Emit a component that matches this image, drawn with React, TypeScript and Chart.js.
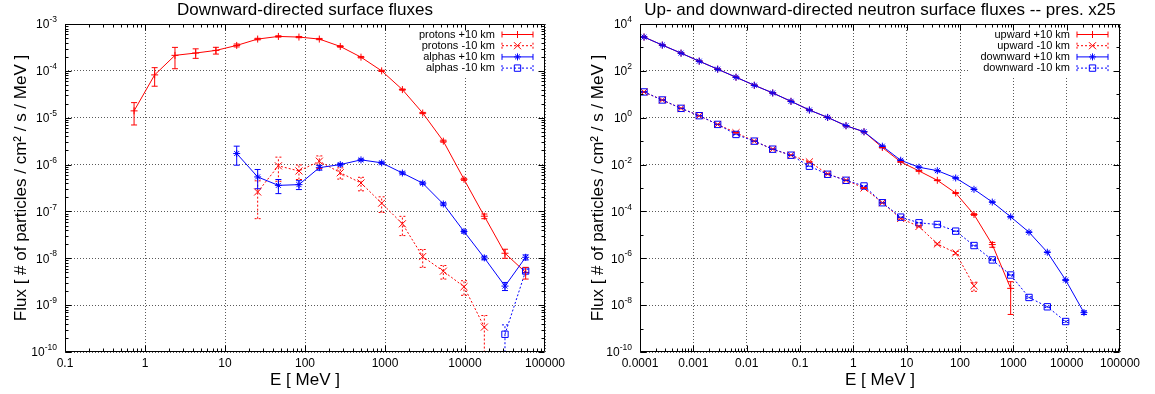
import React, { useEffect, useRef } from 'react';
import { Chart, registerables } from 'chart.js';
Chart.register(...registerables);

const FONT = "'Liberation Sans', Arial, Helvetica, sans-serif";
const RED = '#ff0000';
const BLUE = '#0000ff';

// ---------------- Left panel: downward-directed surface fluxes ----------------
const chargedEnergy = [0.73, 1.32, 2.37, 4.3, 7.7, 14.0, 25.6, 46.5, 84, 151, 276, 501, 908, 1650, 2960, 5360, 9720, 17450, 31600, 57300];
const protonsPlus = [1.4e-5, 8.2e-5, 2.14e-4, 2.4e-4, 2.73e-4, 3.49e-4, 4.77e-4, 5.43e-4, 5.26e-4, 4.77e-4, 3.32e-4, 1.96e-4, 1.0e-4, 3.98e-5, 1.26e-5, 3.16e-6, 4.85e-7, 7.9e-8, 1.28e-8, 5.0e-9];
const protonsPlusErr = [7e-6, 3.5e-5, 1.03e-4, 5.5e-5, 4.5e-5, 2.5e-5, 1.8e-5, 1.8e-5, 1.6e-5, 1.5e-5, 1.2e-5, 7e-6, 3e-6, 1.2e-6, 4e-7, 1.6e-7, 2.5e-8, 9e-9, 2.8e-9, 1.4e-9];
const protonsMinus = [null, null, null, null, null, null, 2.6e-7, 9.4e-7, 7.3e-7, 1.18e-6, 6.7e-7, 4.05e-7, 1.5e-7, 5.45e-8, 1.09e-8, 5.3e-9, 2.47e-9, 3.4e-10, null, null];
const protonsMinusErr = [null, null, null, null, null, null, 1.9e-7, 5e-7, 2.5e-7, 3.5e-7, 1.8e-7, 1.3e-7, 5.5e-8, 2.4e-8, 4.5e-9, 1.7e-9, 8.5e-10, 2.6e-10, null, null];
const alphasPlus = [null, null, null, null, null, 1.72e-6, 5.45e-7, 3.6e-7, 3.73e-7, 8.6e-7, 1.0e-6, 1.26e-6, 1.09e-6, 6.6e-7, 4.0e-7, 1.44e-7, 3.73e-8, 1.02e-8, 2.55e-9, 1.05e-8];
const alphasPlusErr = [null, null, null, null, null, 7.5e-7, 2.4e-7, 1.2e-7, 8e-8, 1e-7, 6e-8, 6e-8, 5e-8, 3.5e-8, 2.2e-8, 9e-9, 2.5e-9, 9e-10, 5e-10, 1.3e-9];
const alphasMinus = [null, null, null, null, null, null, null, null, null, null, null, null, null, null, null, null, null, null, 2.39e-10, 5.35e-9];
const alphasMinusErr = [null, null, null, null, null, null, null, null, null, null, null, null, null, null, null, null, null, null, 1.4e-10, 5e-10];

const leftXTicks = [0.1, 1, 10, 100, 1000, 10000, 100000];
const leftXLabels = ['0.1', '1', '10', '100', '1000', '10000', '100000'];
const leftYTicks = [1e-10, 1e-9, 1e-8, 1e-7, 1e-6, 1e-5, 1e-4, 1e-3];
const leftYLabels = ['10^-10', '10^-9', '10^-8', '10^-7', '10^-6', '10^-5', '10^-4', '10^-3'];

// ---------------- Right panel: neutron surface fluxes ----------------
const neutronEnergy = [1.19e-4, 2.62e-4, 5.88e-4, 1.29e-3, 2.86e-3, 6.31e-3, 0.0139, 0.0308, 0.0678, 0.15, 0.33, 0.729, 1.585, 3.5, 7.72, 17.0, 37.6, 83, 183, 403, 891, 1966, 4340, 9570, 21100];
const upwardPlus = [2773, 1259, 571, 259, 118, 53.5, 24.3, 11.4, 5.0, 2.13, 1.03, 0.454, 0.251, 0.0535, 0.013, 5.35e-3, 2.13e-3, 6.1e-4, 7.4e-5, 3.85e-6, 5.2e-8];
const upwardPlusErr = [50, 25, 11, 5, 2.4, 1.1, 0.5, 0.23, 0.1, 0.045, 0.021, 0.009, 0.005, 0.0012, 3e-4, 1.5e-4, 7e-5, 3e-5, 6e-6, 9e-7, 4.8e-8];
const upwardMinus = [12.6, 5.71, 2.51, 1.22, 0.518, 0.228, 0.1, 0.0454, 0.0251, 0.013, 0.00398, 0.00213, 1.0e-3, 2.35e-4, 5.0e-5, 2.28e-5, 4.1e-6, 1.7e-6, 6.7e-8];
const upwardMinusErr = [0.3, 0.15, 0.07, 0.035, 0.015, 0.006, 0.003, 0.0013, 7e-4, 4e-4, 1.5e-4, 8e-5, 4e-5, 1e-5, 3e-6, 1.5e-6, 5e-7, 2.5e-7, 2.8e-8];
const downwardPlus = [2773, 1259, 571, 259, 118, 53.5, 24.3, 11.4, 5.0, 2.13, 1.03, 0.454, 0.251, 0.061, 0.0153, 7.7e-3, 5.5e-3, 2.68e-3, 8.8e-4, 2.51e-4, 5.9e-5, 1.3e-5, 1.81e-6, 1.18e-7, 4.8e-9];
const downwardPlusErr = [50, 25, 11, 5, 2.4, 1.1, 0.5, 0.23, 0.1, 0.045, 0.021, 0.009, 0.005, 0.0012, 3e-4, 1.5e-4, 1e-4, 5e-5, 1.6e-5, 5e-6, 1.2e-6, 2.6e-7, 4e-8, 4e-9, 8e-10];
const downwardMinus = [12.6, 5.71, 2.51, 1.22, 0.518, 0.193, 0.1, 0.0454, 0.0251, 0.0085, 0.00385, 0.00213, 1.22e-3, 2.35e-4, 5.7e-5, 3.27e-5, 2.77e-5, 1.44e-5, 3.5e-6, 8.5e-7, 1.93e-7, 2.13e-8, 8.5e-9, 2.0e-9];
const downwardMinusErr = [0.3, 0.15, 0.07, 0.035, 0.015, 0.005, 0.003, 0.0013, 7e-4, 2.5e-4, 1.2e-4, 6e-5, 4e-5, 8e-6, 2e-6, 1.2e-6, 1e-6, 5e-7, 1.5e-7, 4e-8, 1e-8, 1.5e-9, 6e-10, 2e-10];

const rightXTicks = [1e-4, 1e-3, 1e-2, 1e-1, 1, 10, 100, 1000, 10000, 100000];
const rightXLabels = ['0.0001', '0.001', '0.01', '0.1', '1', '10', '100', '1000', '10000', '100000'];
const rightYTicks = [1e-10, 1e-8, 1e-6, 1e-4, 1e-2, 1, 1e2, 1e4];
const rightYLabels = ['10^-10', '10^-8', '10^-6', '10^-4', '10^-2', '10^0', '10^2', '10^4'];

const Y_TITLE = 'Flux [ # of particles / cm² / s / MeV ]';
const X_TITLE = 'E [ MeV ]';

type Num = number | null;

function buildSeries(xs: number[], ys: Num[], errs: Num[]) {
  const data: { x: number; y: number }[] = [];
  const e: number[] = [];
  ys.forEach((y, i) => {
    if (y == null) return;
    data.push({ x: xs[i], y });
    e.push((errs[i] as number) ?? 0);
  });
  return { data, e };
}

function dataset(label: string, xs: number[], ys: Num[], errs: Num[], color: string, dashed: boolean, style: string, radius: number, order: number) {
  const s = buildSeries(xs, ys, errs);
  return {
    label,
    data: s.data,
    errors: s.e,
    order,
    borderColor: color,
    backgroundColor: 'rgba(0,0,0,0)',
    borderWidth: 1,
    borderDash: dashed ? [2, 2] : [],
    pointStyle: style,
    pointRadius: radius,
    pointBorderWidth: 1,
    pointBorderColor: color,
    pointBackgroundColor: 'rgba(0,0,0,0)',
    pointHoverRadius: radius,
    fill: false,
    tension: 0,
    gpStyle: style,
    gpRadius: radius,
    gpDashed: dashed,
  };
}

function drawMark(ctx: CanvasRenderingContext2D, style: string, x: number, y: number, r: number) {
  ctx.beginPath();
  if (style === 'cross' || style === 'star') {
    ctx.moveTo(x - r, y); ctx.lineTo(x + r, y);
    ctx.moveTo(x, y - r); ctx.lineTo(x, y + r);
  }
  if (style === 'crossRot' || style === 'star') {
    const d = r * Math.SQRT1_2;
    ctx.moveTo(x - d, y - d); ctx.lineTo(x + d, y + d);
    ctx.moveTo(x - d, y + d); ctx.lineTo(x + d, y - d);
  }
  if (style === 'rect') {
    const d = r * Math.SQRT1_2;
    ctx.rect(x - d, y - d, 2 * d, 2 * d);
  }
  ctx.stroke();
}

const errorBarPlugin = {
  id: 'gpErrorBars',
  afterDatasetsDraw(chart: any) {
    const { ctx, chartArea, scales } = chart;
    const xs = scales.x, ys = scales.y;
    ctx.save();
    ctx.beginPath();
    ctx.rect(chartArea.left, chartArea.top, chartArea.right - chartArea.left, chartArea.bottom - chartArea.top);
    ctx.clip();
    const sets = chart.data.datasets.slice();
    sets.forEach((ds: any) => {
      const errs: number[] = ds.errors;
      if (!errs) return;
      ctx.strokeStyle = ds.borderColor;
      ctx.lineWidth = 1;
      ctx.setLineDash(ds.gpDashed ? [2, 2] : []);
      ds.data.forEach((p: any, j: number) => {
        const s = errs[j];
        const px = xs.getPixelForValue(p.x);
        const hi = p.y + s;
        const lo = p.y - s;
        const pyHi = ys.getPixelForValue(hi);
        const pyLo = lo > 0 ? ys.getPixelForValue(lo) : chartArea.bottom + 20;
        ctx.beginPath();
        ctx.moveTo(px, pyLo); ctx.lineTo(px, pyHi);
        ctx.moveTo(px - 3, pyHi); ctx.lineTo(px + 3, pyHi);
        ctx.moveTo(px - 3, pyLo); ctx.lineTo(px + 3, pyLo);
        ctx.stroke();
      });
    });
    ctx.restore();
  },
};

const legendPlugin = {
  id: 'gpLegend',
  beforeDatasetsDraw(chart: any, _args: any, opts: any) {
    const { ctx, chartArea } = chart;
    ctx.save();
    ctx.fillStyle = '#fff';
    ctx.fillRect(chartArea.right - opts.boxWidth, chartArea.top + 1, opts.boxWidth - 1, 51);
    ctx.restore();
  },
  afterDraw(chart: any, _args: any, opts: any) {
    const { ctx, chartArea } = chart;
    ctx.save();
    ctx.font = `11px ${FONT}`;
    ctx.textAlign = 'right';
    ctx.textBaseline = 'middle';
    chart.data.datasets.forEach((ds: any, i: number) => {
      const y = chartArea.top + 10.5 + i * 11.2;
      ctx.fillStyle = '#000';
      ctx.fillText(ds.label, chartArea.right - 50, y);
      const x0 = chartArea.right - 43, x1 = chartArea.right - 12;
      ctx.strokeStyle = ds.borderColor;
      ctx.lineWidth = 1;
      ctx.setLineDash(ds.gpDashed ? [2, 2] : []);
      ctx.beginPath();
      ctx.moveTo(x0, y); ctx.lineTo(x1, y);
      ctx.moveTo(x0, y - 3); ctx.lineTo(x0, y + 3);
      ctx.moveTo(x1, y - 3); ctx.lineTo(x1, y + 3);
      ctx.stroke();
      ctx.setLineDash([]);
      drawMark(ctx, ds.gpStyle, (x0 + x1) / 2, y, ds.gpRadius);
    });
    ctx.restore();
  },
};

// y tick labels of the form 10^n, drawn with a raised exponent
const powerLabelPlugin = {
  id: 'gpPowerLabels',
  afterDraw(chart: any, _args: any, opts: any) {
    const { ctx, chartArea, scales } = chart;
    const ys = scales.y;
    ctx.save();
    ctx.fillStyle = '#000';
    ctx.textBaseline = 'alphabetic';
    ctx.textAlign = 'left';
    const labels: string[] = opts.labels;
    ys.ticks.forEach((t: any, i: number) => {
      const [base, exp] = labels[i].split('^');
      const py = ys.getPixelForValue(t.value);
      ctx.font = `8.5px ${FONT}`;
      const ew = ctx.measureText(exp).width;
      ctx.font = `12px ${FONT}`;
      const bw = ctx.measureText(base).width;
      const right = chartArea.left - 8;
      ctx.fillText(base, right - ew - bw, py + 4.3);
      ctx.font = `8.5px ${FONT}`;
      ctx.fillText(exp, right - ew, py - 1.8);
    });
    ctx.restore();
  },
};

const framePlugin = {
  id: 'gpFrame',
  afterDraw(chart: any, _args: any, opts: any) {
    const { ctx, chartArea, scales } = chart;
    const { left, right, top, bottom } = chartArea;
    const xs = scales.x, ys = scales.y;
    ctx.save();
    ctx.strokeStyle = '#000';
    ctx.lineWidth = 1;
    ctx.setLineDash([]);
    const L = Math.round(left) + 0.5, R = Math.round(right) - 0.5, T = Math.round(top) + 0.5, B = Math.round(bottom) - 0.5;
    ctx.beginPath();
    ctx.rect(L, T, R - L, B - T);
    ctx.stroke();
    const majorLen = 6, minorLen = 3;
    ctx.beginPath();
    const xMin = xs.min, xMax = xs.max;
    for (let d = Math.floor(Math.log10(xMin)); d < Math.ceil(Math.log10(xMax)); d++) {
      const base = Math.pow(10, d);
      [1, 2, 3, 4, 5, 6, 7, 8, 9].forEach((m) => {
        const v = m * base;
        if (v < xMin * 0.999 || v > xMax * 1.001) return;
        const px = Math.round(xs.getPixelForValue(v)) + 0.5;
        const len = m === 1 ? majorLen : minorLen;
        ctx.moveTo(px, B); ctx.lineTo(px, B - len);
        ctx.moveTo(px, T); ctx.lineTo(px, T + len);
      });
    }
    const yMin = ys.min, yMax = ys.max;
    const d0 = Math.round(Math.log10(yMin)), d1 = Math.round(Math.log10(yMax));
    for (let d = d0; d <= d1; d++) {
      const base = Math.pow(10, d);
      const isMajor = (d - d0) % opts.yStep === 0;
      const py0 = Math.round(ys.getPixelForValue(base)) + 0.5;
      const len = isMajor ? majorLen : minorLen;
      ctx.moveTo(L, py0); ctx.lineTo(L + len, py0);
      ctx.moveTo(R, py0); ctx.lineTo(R - len, py0);
      if (opts.yStep === 1 && d < d1) {
        [2, 3, 4, 5, 6, 7, 8, 9].forEach((m) => {
          const py = Math.round(ys.getPixelForValue(m * base)) + 0.5;
          ctx.moveTo(L, py); ctx.lineTo(L + minorLen, py);
          ctx.moveTo(R, py); ctx.lineTo(R - minorLen, py);
        });
      }
    }
    ctx.stroke();
    ctx.restore();
  },
};

function makeConfig(p: any) {
  return {
    type: 'line',
    data: { datasets: p.datasets },
    plugins: [legendPlugin, errorBarPlugin, framePlugin, powerLabelPlugin],
    options: {
      responsive: false,
      animation: false,
      devicePixelRatio: 1,
      events: [],
      layout: { padding: { left: 0, right: p.padRight, top: 0, bottom: 0 } },
      plugins: {
        legend: { display: false },
        tooltip: { enabled: false },
        title: {
          display: true,
          text: p.title,
          fullSize: false,
          color: '#000',
          font: { family: FONT, size: 17, weight: 'normal', lineHeight: 1.2 },
          padding: { top: 0, bottom: 3.6 },
        },
        gpLegend: { boxWidth: p.legendBox },
        gpFrame: { yStep: p.yStep },
        gpPowerLabels: { labels: p.yLabels },
      },
      scales: {
        x: {
          type: 'logarithmic',
          min: p.xTicks[0],
          max: p.xTicks[p.xTicks.length - 1],
          afterBuildTicks: (s: any) => { s.ticks = p.xTicks.map((v: number) => ({ value: v })); },
          afterFit: (s: any) => { s.height = 42; },
          ticks: {
            autoSkip: false, maxRotation: 0, minRotation: 0, padding: 4, color: '#000',
            font: { family: FONT, size: 12 },
            callback: (_v: any, i: number) => p.xLabels[i],
          },
          grid: { color: 'rgba(0,0,0,0.65)', lineWidth: 1, drawTicks: false },
          border: { display: false, dash: [1, 2] },
          title: { display: true, text: X_TITLE, color: '#000', font: { family: FONT, size: 17, lineHeight: 1.2 }, padding: { top: 0, bottom: 3 } },
        },
        y: {
          type: 'logarithmic',
          min: p.yTicks[0],
          max: p.yTicks[p.yTicks.length - 1],
          afterBuildTicks: (s: any) => { s.ticks = p.yTicks.map((v: number) => ({ value: v })); },
          afterFit: (s: any) => { s.width = p.yAxisWidth; },
          ticks: {
            display: false,
            autoSkip: false, padding: 7, color: '#000',
            font: { family: FONT, size: 12 },
            callback: (_v: any, i: number) => p.yLabels[i],
          },
          grid: { color: 'rgba(0,0,0,0.65)', lineWidth: 1, drawTicks: false },
          border: { display: false, dash: [1, 2] },
          title: { display: true, text: Y_TITLE, color: '#000', font: { family: FONT, size: 17, lineHeight: 1.2 }, padding: { top: 11, bottom: 11 } },
        },
      },
    },
  };
}

const leftConfig = () => makeConfig({
  title: 'Downward-directed surface fluxes',
  xTicks: leftXTicks, xLabels: leftXLabels, yTicks: leftYTicks, yLabels: leftYLabels,
  yAxisWidth: 65, padRight: 32, legendBox: 144, yStep: 1,
  datasets: [
    dataset('protons +10 km', chargedEnergy, protonsPlus, protonsPlusErr, RED, false, 'cross', 3.5, 3),
    dataset('protons -10 km', chargedEnergy, protonsMinus, protonsMinusErr, RED, true, 'crossRot', 5, 2),
    dataset('alphas +10 km', chargedEnergy, alphasPlus, alphasPlusErr, BLUE, false, 'star', 3.5, 1),
    dataset('alphas -10 km', chargedEnergy, alphasMinus, alphasMinusErr, BLUE, true, 'rect', 4.5, 0),
  ],
});

const rightConfig = () => makeConfig({
  title: 'Up- and downward-directed neutron surface fluxes -- pres. x25',
  xTicks: rightXTicks, xLabels: rightXLabels, yTicks: rightYTicks, yLabels: rightYLabels,
  yAxisWidth: 63, padRight: 35, legendBox: 152, yStep: 2,
  datasets: [
    dataset('upward +10 km', neutronEnergy, upwardPlus, upwardPlusErr, RED, false, 'cross', 3.5, 3),
    dataset('upward -10 km', neutronEnergy, upwardMinus, upwardMinusErr, RED, true, 'crossRot', 5, 2),
    dataset('downward +10 km', neutronEnergy, downwardPlus, downwardPlusErr, BLUE, false, 'star', 3.5, 1),
    dataset('downward -10 km', neutronEnergy, downwardMinus, downwardMinusErr, BLUE, true, 'rect', 4.5, 0),
  ],
});

function Panel({ left, width, config }: { left: number; width: number; config: () => any }) {
  const ref = useRef<HTMLCanvasElement>(null);
  useEffect(() => {
    const chart = new Chart(ref.current as HTMLCanvasElement, config() as any);
    return () => chart.destroy();
  }, []);
  return (
    <div style={{ position: 'absolute', left, top: 0, width, height: 394 }}>
      <canvas ref={ref} width={width} height={394} style={{ display: 'block', width, height: 394 }} />
    </div>
  );
}

export default function App() {
  return (
    <div style={{ position: 'fixed', left: 0, top: 0, width: 1155, height: 394, background: '#fff', overflow: 'hidden' }}>
      <Panel left={0} width={577} config={leftConfig} />
      <Panel left={577} width={578} config={rightConfig} />
    </div>
  );
}
